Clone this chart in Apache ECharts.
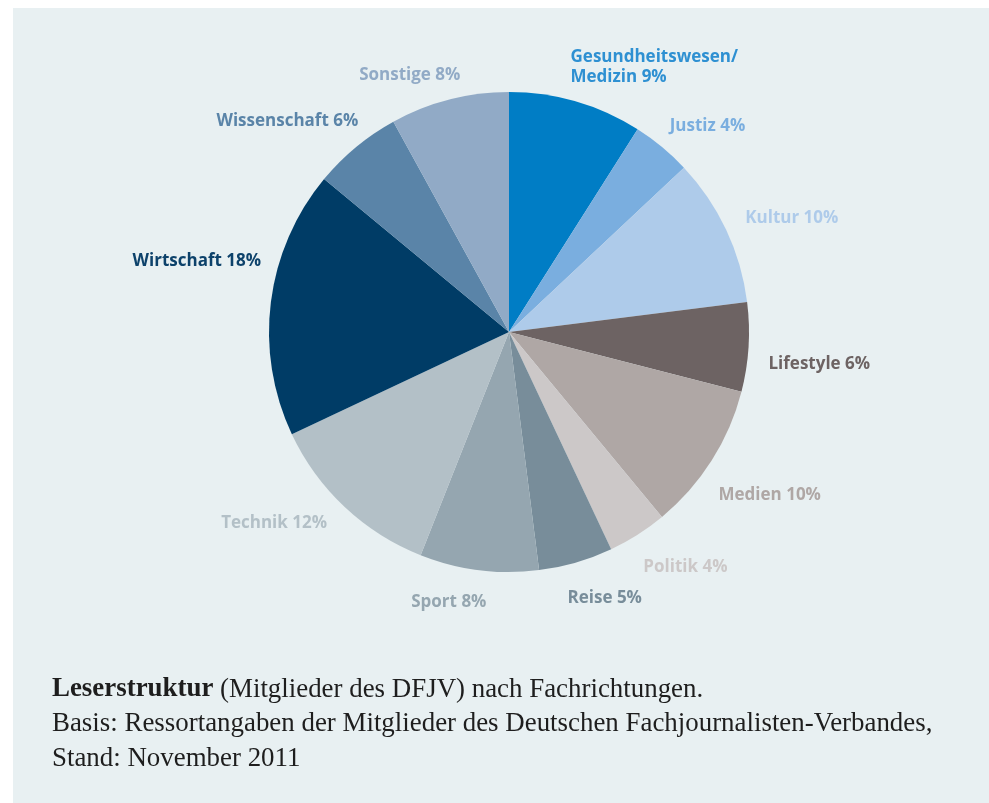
<!DOCTYPE html>
<html>
<head>
<meta charset="utf-8">
<script src="https://cdn.jsdelivr.net/npm/echarts@6/dist/echarts.min.js"></script>
<style>
html,body{margin:0;padding:0;background:#ffffff;}
#chart{width:989px;height:803px;}
</style>
</head>
<body>
<div id="chart"></div>
<script>
// ---- data ----
var categories = ['Gesundheitswesen/\nMedizin', 'Justiz', 'Kultur', 'Lifestyle', 'Medien', 'Politik', 'Reise', 'Sport', 'Technik', 'Wirtschaft', 'Wissenschaft', 'Sonstige'];
var values = [9, 4, 10, 6, 10, 4, 5, 8, 12, 18, 6, 8];
var captionBold = 'Leserstruktur';
var captionLine1 = ' (Mitglieder des DFJV) nach Fachrichtungen.';
var captionLine2 = 'Basis: Ressortangaben der Mitglieder des Deutschen Fachjournalisten-Verbandes,';
var captionLine3 = 'Stand: November 2011';

// ---- styles ----
var colors = ['#007dc5', '#7aaedf', '#aecbea', '#6d6363', '#afa7a5', '#ccc8c8', '#788d9a', '#95a6b0', '#b3c0c7', '#003c66', '#5a84a8', '#91aac6'];
var labelColors = ['#2e90d2', '#7aaedf', '#aecbea', '#6d6363', '#afa7a5', '#ccc8c8', '#788d9a', '#95a6b0', '#b3c0c7', '#0d426b', '#5a84a8', '#91aac6'];
// small label nudges (layout only) relative to ECharts' outside label placement
var labelNudgeX = [-16, -10, -4, -5, -15, -10, -19, 15, 1, 15, 20, 21];
var labelNudgeY = [-15, -6, -3, 16, 24, 16, 16, 12, 2, -38, -11, -5];

var chart = echarts.init(document.getElementById('chart'), null, {renderer: 'canvas'});
var pieData = categories.map(function (c, i) {
  return {
    name: c,
    value: values[i],
    itemStyle: {color: colors[i]},
    label: {color: labelColors[i]}
  };
});

chart.setOption({
  animation: false,
  backgroundColor: '#ffffff',
  graphic: [
    {type: 'rect', left: 13, top: 8, shape: {width: 976, height: 795}, style: {fill: '#e8f0f2'}, z: -10},
    {
      type: 'text', left: 52, top: 676,
      style: {
        text: '{b|' + captionBold + '}{n|' + captionLine1 + '}\n{n|' + captionLine2 + '}\n{n|' + captionLine3 + '}',
        rich: {
          b: {fontFamily: 'Liberation Serif', fontWeight: 'bold', fontSize: 26.9, lineHeight: 34.5, fill: '#1e1e1e'},
          n: {fontFamily: 'Liberation Serif', fontSize: 26.9, lineHeight: 34.5, fill: '#1e1e1e'}
        }
      }
    }
  ],
  series: [{
    type: 'pie',
    center: [509, 332],
    radius: 240,
    startAngle: 90,
    clockwise: true,
    silent: true,
    avoidLabelOverlap: false,
    data: pieData,
    itemStyle: {borderWidth: 0},
    label: {
      show: true,
      position: 'outside',
      formatter: function (p) { return p.name + ' ' + p.value + '%'; },
      fontFamily: 'Open Sans',
      fontWeight: 'bold',
      fontSize: 17,
      lineHeight: 20
    },
    labelLine: {show: false, length: 20, length2: 0},
    labelLayout: function (params) {
      return {dx: labelNudgeX[params.dataIndex], dy: labelNudgeY[params.dataIndex]};
    }
  }]
});
</script>
</body>
</html>
